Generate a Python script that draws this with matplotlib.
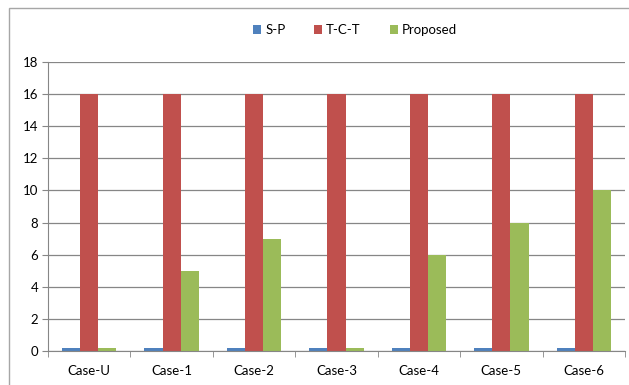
import numpy as np
import matplotlib.pyplot as plt
from matplotlib.patches import Rectangle

plt.rcParams['font.family'] = ['Lato', 'DejaVu Sans']

cases = ['Case-U', 'Case-1', 'Case-2', 'Case-3', 'Case-4', 'Case-5', 'Case-6']
sp = [0.2, 0.2, 0.2, 0.2, 0.2, 0.2, 0.2]
tct = [16, 16, 16, 16, 16, 16, 16]
proposed = [0.2, 5, 7, 0.2, 6, 8, 10]

colors = ['#4F81BD', '#C0504D', '#9BBB59']
labels = ['S-P', 'T-C-T', 'Proposed']

fig = plt.figure(figsize=(6.29, 3.85), dpi=100)
# chart border
fig.patches.append(Rectangle((9 / 629, -0.05), 1.2, 1 - 8 / 385 + 0.05,
                             transform=fig.transFigure, fill=False,
                             edgecolor='#A6A6A6', linewidth=1))

ax = fig.add_axes([48 / 629, 1 - 351 / 385, 577 / 629, (351 - 62) / 385])
x = np.arange(len(cases))
w = 0.22
for i, (vals, c, lab) in enumerate(zip([sp, tct, proposed], colors, labels)):
    ax.bar(x + (i - 1) * w, vals, w, color=c, label=lab, zorder=2)

ax.set_xlim(-0.5, len(cases) - 0.5)
ax.set_ylim(0, 18)
ax.set_yticks(range(0, 19, 2))
ax.set_xticks(x)
ax.set_xticklabels(cases)
ax.set_xticks(np.arange(-0.5, len(cases), 1), minor=True)
ax.tick_params(axis='x', which='major', length=0, pad=10, labelsize=9.5)
ax.tick_params(axis='x', which='minor', length=4, color='#868686')
ax.tick_params(axis='y', length=4, color='#868686', labelsize=9.5, pad=3)
ax.grid(axis='y', color='#868686', linewidth=0.9, zorder=0)
for s in ['top', 'right']:
    ax.spines[s].set_visible(False)
for s in ['left', 'bottom']:
    ax.spines[s].set_color('#868686')

fig.legend(loc='center', bbox_to_anchor=(355 / 629, 1 - 30 / 385), ncol=3,
           frameon=False, fontsize=9.5, handlelength=0.6, handleheight=0.6,
           handletextpad=0.3, columnspacing=2.2)

fig.savefig('out.png', dpi=100)
